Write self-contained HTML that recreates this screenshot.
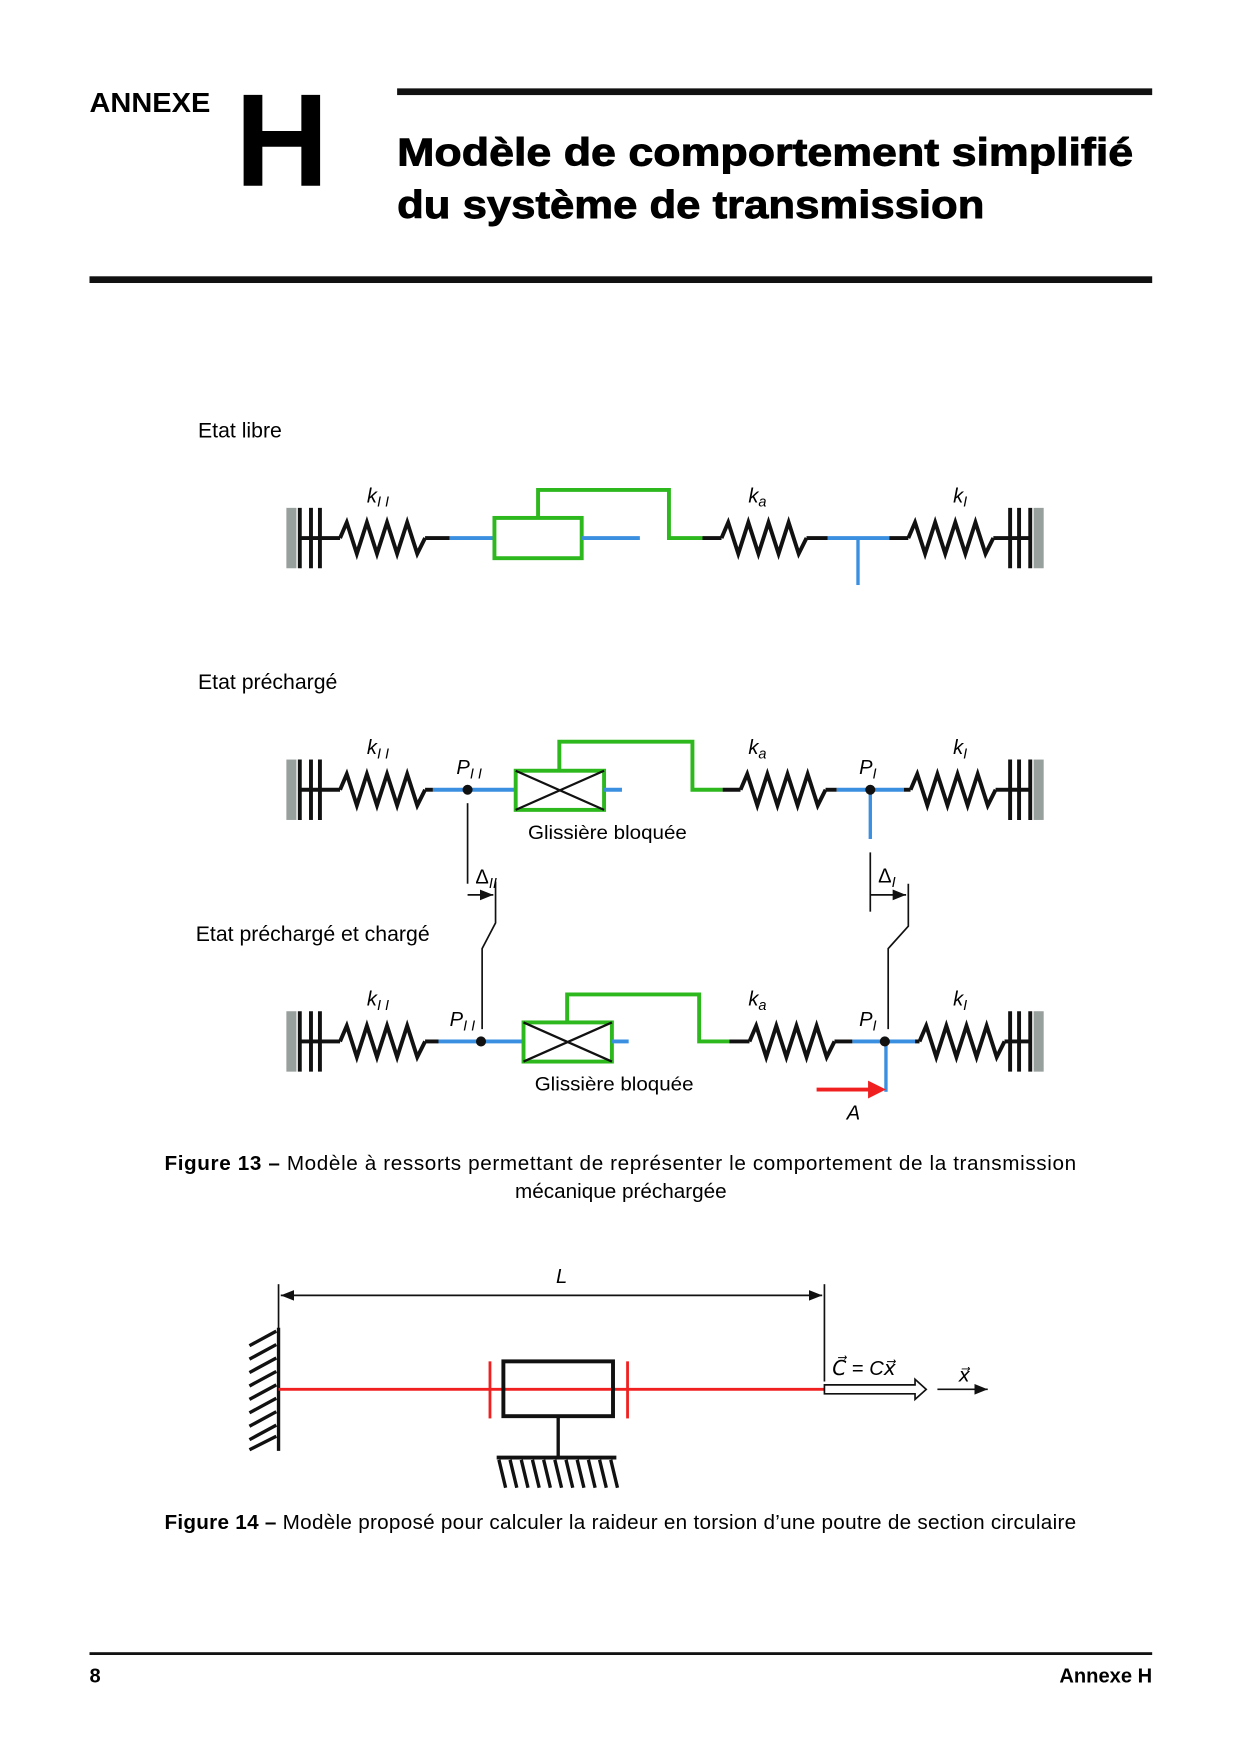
<!DOCTYPE html>
<html><head><meta charset="utf-8"><style>
html,body{margin:0;padding:0;background:#fff}
svg{display:block}
text{font-family:"Liberation Sans",sans-serif}
.it{font-style:italic}
</style></head><body>
<svg width="1240" height="1754" viewBox="0 0 1108.5 1568" xmlns="http://www.w3.org/2000/svg">
<defs>
<g id="sp"><polyline points="0,0 6,-14 15,14 24,-14 33,14 42,-14 51,14 60,-14 69,14 76,0" fill="none" stroke="#111" stroke-width="3.5" stroke-linejoin="miter"/></g>
<g id="wl"><rect x="-13" y="-27" width="9" height="54" fill="#98a09e"/><line x1="-1" y1="-27" x2="-1" y2="27" stroke="#111" stroke-width="3.5"/><line x1="9" y1="-27" x2="9" y2="27" stroke="#111" stroke-width="3.5"/><line x1="17" y1="-27" x2="17" y2="27" stroke="#111" stroke-width="3.5"/><line x1="-1" y1="0" x2="17" y2="0" stroke="#111" stroke-width="3.5"/></g>
<marker id="ah" viewBox="0 0 10 10" refX="10" refY="5" markerWidth="8" markerHeight="8" orient="auto-start-reverse"><path d="M0,1 L10,5 L0,9 Z" fill="#111"/></marker>
</defs>
<!-- header -->
<text x="80" y="100" font-size="25" font-weight="bold" textLength="108" lengthAdjust="spacingAndGlyphs">ANNEXE</text>
<text x="210" y="166" font-size="118" font-weight="bold" textLength="84" lengthAdjust="spacingAndGlyphs">H</text>
<rect x="355" y="79" width="675" height="6" fill="#111"/>
<text x="355" y="148" font-size="35" font-weight="bold" stroke="#000" stroke-width="0.8" textLength="658" lengthAdjust="spacingAndGlyphs">Modèle de comportement simplifié</text>
<text x="355" y="195" font-size="35" font-weight="bold" stroke="#000" stroke-width="0.8" textLength="525" lengthAdjust="spacingAndGlyphs">du système de transmission</text>
<rect x="80" y="247" width="950" height="6" fill="#111"/>

<text x="177" y="391" font-size="19">Etat libre</text>
<text x="177" y="616" font-size="19">Etat préchargé</text>
<text x="175" y="841" font-size="19">Etat préchargé et chargé</text>

<!-- Row 1 -->
<g stroke-width="3.5" fill="none">
<use href="#wl" x="269" y="481"/>
<use href="#wl" transform="translate(920 481) scale(-1 1)"/>
<line x1="286" y1="481" x2="304" y2="481" stroke="#111"/>
<use href="#sp" x="304" y="481"/>
<line x1="380" y1="481" x2="402" y2="481" stroke="#111"/>
<line x1="402" y1="481" x2="442" y2="481" stroke="#3a8fe0"/>
<rect x="442" y="463" width="78" height="36" stroke="#2db81e"/>
<line x1="520" y1="481" x2="572" y2="481" stroke="#3a8fe0"/>
<polyline points="481,463 481,438 598,438 598,481 628,481" stroke="#2db81e"/>
<line x1="628" y1="481" x2="645" y2="481" stroke="#111"/>
<use href="#sp" x="645" y="481"/>
<line x1="721" y1="481" x2="740" y2="481" stroke="#111"/>
<line x1="740" y1="481" x2="795" y2="481" stroke="#3a8fe0"/>
<line x1="767" y1="481" x2="767" y2="523" stroke="#3a8fe0" stroke-width="3"/>
<line x1="795" y1="481" x2="812" y2="481" stroke="#111"/>
<use href="#sp" x="812" y="481"/>
<line x1="888" y1="481" x2="904" y2="481" stroke="#111"/>
</g>
<text class="it" x="328" y="449" font-size="18">k<tspan font-size="13" dy="4">I I</tspan></text>
<text class="it" x="669" y="449" font-size="18">k<tspan font-size="13" dy="4">a</tspan></text>
<text class="it" x="852" y="449" font-size="18">k<tspan font-size="13" dy="4">I</tspan></text>

<!-- Row 2 -->
<g stroke-width="3.5" fill="none">
<use href="#wl" x="269" y="706"/>
<use href="#wl" transform="translate(920 706) scale(-1 1)"/>
<line x1="286" y1="706" x2="304" y2="706" stroke="#111"/>
<use href="#sp" x="304" y="706"/>
<line x1="380" y1="706" x2="387" y2="706" stroke="#111"/>
<line x1="387" y1="706" x2="461" y2="706" stroke="#3a8fe0"/>
<rect x="461" y="689" width="79" height="35" stroke="#2db81e"/>
<path d="M461,689 L540,724 M540,689 L461,724" stroke="#111" stroke-width="2"/>
<line x1="540" y1="706" x2="556" y2="706" stroke="#3a8fe0"/>
<polyline points="500,689 500,663 619,663 619,706 646,706" stroke="#2db81e"/>
<line x1="646" y1="706" x2="662" y2="706" stroke="#111"/>
<use href="#sp" x="662" y="706"/>
<line x1="738" y1="706" x2="748" y2="706" stroke="#111"/>
<line x1="748" y1="706" x2="808" y2="706" stroke="#3a8fe0"/>
<line x1="778" y1="706" x2="778" y2="750" stroke="#3a8fe0" stroke-width="3"/>
<line x1="808" y1="706" x2="814" y2="706" stroke="#111"/>
<use href="#sp" x="814" y="706"/>
<line x1="890" y1="706" x2="904" y2="706" stroke="#111"/>
</g>
<circle cx="418" cy="706" r="4.5" fill="#111"/>
<circle cx="778" cy="706" r="4.5" fill="#111"/>
<text class="it" x="328" y="674" font-size="18">k<tspan font-size="13" dy="4">I I</tspan></text>
<text class="it" x="669" y="674" font-size="18">k<tspan font-size="13" dy="4">a</tspan></text>
<text class="it" x="852" y="674" font-size="18">k<tspan font-size="13" dy="4">I</tspan></text>
<text class="it" x="408" y="692" font-size="18">P<tspan font-size="13" dy="4">I I</tspan></text>
<text class="it" x="768" y="692" font-size="18">P<tspan font-size="13" dy="4">I</tspan></text>
<text x="472" y="750" font-size="17" textLength="142" lengthAdjust="spacingAndGlyphs">Glissière bloquée</text>

<!-- Row 3 -->
<g stroke-width="3.5" fill="none">
<use href="#wl" x="269" y="931"/>
<use href="#wl" transform="translate(920 931) scale(-1 1)"/>
<line x1="286" y1="931" x2="304" y2="931" stroke="#111"/>
<use href="#sp" x="304" y="931"/>
<line x1="380" y1="931" x2="392" y2="931" stroke="#111"/>
<line x1="392" y1="931" x2="468" y2="931" stroke="#3a8fe0"/>
<rect x="468" y="914" width="79" height="35" stroke="#2db81e"/>
<path d="M468,914 L547,949 M547,914 L468,949" stroke="#111" stroke-width="2"/>
<line x1="547" y1="931" x2="562" y2="931" stroke="#3a8fe0"/>
<polyline points="507,914 507,889 625,889 625,931 652,931" stroke="#2db81e"/>
<line x1="652" y1="931" x2="670" y2="931" stroke="#111"/>
<use href="#sp" x="670" y="931"/>
<line x1="746" y1="931" x2="762" y2="931" stroke="#111"/>
<line x1="762" y1="931" x2="818" y2="931" stroke="#3a8fe0"/>
<line x1="792" y1="931" x2="792" y2="976" stroke="#3a8fe0" stroke-width="3"/>
<line x1="818" y1="931" x2="822" y2="931" stroke="#111"/>
<use href="#sp" x="822" y="931"/>
<line x1="898" y1="931" x2="904" y2="931" stroke="#111"/>
</g>
<circle cx="430" cy="931" r="4.5" fill="#111"/>
<circle cx="791" cy="931" r="4.5" fill="#111"/>
<line x1="730" y1="974" x2="778" y2="974" stroke="#f02020" stroke-width="3.5"/>
<path d="M776,966 L792,974 L776,982 Z" fill="#f02020"/>
<text class="it" x="757" y="1001" font-size="18">A</text>
<text class="it" x="328" y="899" font-size="18">k<tspan font-size="13" dy="4">I I</tspan></text>
<text class="it" x="669" y="899" font-size="18">k<tspan font-size="13" dy="4">a</tspan></text>
<text class="it" x="852" y="899" font-size="18">k<tspan font-size="13" dy="4">I</tspan></text>
<text class="it" x="402" y="917" font-size="18">P<tspan font-size="13" dy="4">I I</tspan></text>
<text class="it" x="768" y="917" font-size="18">P<tspan font-size="13" dy="4">I</tspan></text>
<text x="478" y="975" font-size="17" textLength="142" lengthAdjust="spacingAndGlyphs">Glissière bloquée</text>

<!-- deltas -->
<g stroke="#111" stroke-width="1.5" fill="none">
<line x1="418" y1="718" x2="418" y2="790"/>
<line x1="418" y1="800" x2="441" y2="800" marker-end="url(#ah)"/>
<polyline points="443,788 443,825 431,848 431,920"/>
<line x1="778" y1="762" x2="778" y2="815"/>
<line x1="778" y1="800" x2="810" y2="800" marker-end="url(#ah)"/>
<polyline points="812,790 812,828 794,848 794,920"/>
</g>
<text x="425" y="790" font-size="18">Δ<tspan class="it" font-size="13" dy="4">II</tspan></text>
<text x="785" y="789" font-size="18">Δ<tspan class="it" font-size="13" dy="4">I</tspan></text>

<text x="147" y="1046" font-size="18.5" textLength="815" lengthAdjust="spacing"><tspan font-weight="bold">Figure 13 –</tspan> Modèle à ressorts permettant de représenter le comportement de la transmission</text>
<text x="555" y="1071" font-size="18.5" text-anchor="middle">mécanique préchargée</text>

<!-- Figure 14 -->
<g stroke="#111" stroke-width="1.5" fill="none">
<line x1="249" y1="1148" x2="249" y2="1240"/>
<line x1="737" y1="1148" x2="737" y2="1235"/>
<line x1="251" y1="1158" x2="735" y2="1158" marker-start="url(#ah)" marker-end="url(#ah)"/>
<line x1="838" y1="1242" x2="883" y2="1242" marker-end="url(#ah)"/>
</g>
<text class="it" x="497" y="1147" font-size="18">L</text>
<line x1="249" y1="1187" x2="249" y2="1297" stroke="#111" stroke-width="3"/>
<g stroke="#111" stroke-width="3">
<line x1="247" y1="1190" x2="223" y2="1203"/><line x1="247" y1="1202" x2="223" y2="1215"/><line x1="247" y1="1214" x2="223" y2="1227"/><line x1="247" y1="1226" x2="223" y2="1239"/><line x1="247" y1="1238" x2="223" y2="1251"/><line x1="247" y1="1250" x2="223" y2="1263"/><line x1="247" y1="1262" x2="223" y2="1275"/><line x1="247" y1="1274" x2="223" y2="1287"/><line x1="247" y1="1284" x2="223" y2="1296"/>
</g>
<line x1="249" y1="1242" x2="737" y2="1242" stroke="#f02020" stroke-width="2.5"/>
<line x1="438" y1="1217" x2="438" y2="1268" stroke="#f02020" stroke-width="2.5"/>
<line x1="561" y1="1217" x2="561" y2="1268" stroke="#f02020" stroke-width="2.5"/>
<rect x="450" y="1217" width="98" height="49" fill="none" stroke="#111" stroke-width="3.5"/>
<line x1="499" y1="1266" x2="499" y2="1303" stroke="#111" stroke-width="3"/>
<line x1="444" y1="1303" x2="551" y2="1303" stroke="#111" stroke-width="3.5"/>
<g stroke="#111" stroke-width="3">
<line x1="446" y1="1305" x2="452" y2="1330"/><line x1="456" y1="1305" x2="462" y2="1330"/><line x1="466" y1="1305" x2="472" y2="1330"/><line x1="476" y1="1305" x2="482" y2="1330"/><line x1="486" y1="1305" x2="492" y2="1330"/><line x1="496" y1="1305" x2="502" y2="1330"/><line x1="506" y1="1305" x2="512" y2="1330"/><line x1="516" y1="1305" x2="522" y2="1330"/><line x1="526" y1="1305" x2="532" y2="1330"/><line x1="536" y1="1305" x2="542" y2="1330"/><line x1="546" y1="1305" x2="552" y2="1330"/>
</g>
<path d="M737,1238 L818,1238 L818,1233 L828,1242 L818,1251 L818,1246 L737,1246 Z" fill="#fff" stroke="#111" stroke-width="1.5"/>
<text class="it" x="744" y="1229" font-size="18">C⃗ <tspan font-style="normal">=</tspan> Cx⃗</text>
<text class="it" x="857" y="1235" font-size="17">x⃗</text>

<text x="147" y="1367" font-size="18.5" textLength="815" lengthAdjust="spacing"><tspan font-weight="bold">Figure 14 –</tspan> Modèle proposé pour calculer la raideur en torsion d’une poutre de section circulaire</text>

<!-- footer -->
<rect x="80" y="1477" width="950" height="2.5" fill="#111"/>
<text x="80" y="1504" font-size="18" font-weight="bold">8</text>
<text x="1030" y="1504" font-size="18" font-weight="bold" text-anchor="end">Annexe H</text>
</svg>
</body></html>
